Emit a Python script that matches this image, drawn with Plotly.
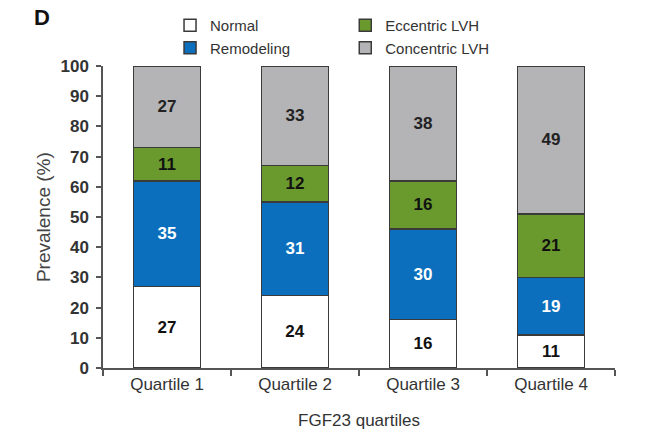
import plotly.graph_objects as go

categories = ["Quartile 1", "Quartile 2", "Quartile 3", "Quartile 4"]
normal = [27, 24, 16, 11]
remodeling = [35, 31, 30, 19]
eccentric = [11, 12, 16, 21]
concentric = [27, 33, 38, 49]

series = [
    ("Normal", normal, "#ffffff", "#111111", "legend"),
    ("Remodeling", remodeling, "#0b6fbd", "#ffffff", "legend"),
    ("Eccentric LVH", eccentric, "#6a9a2e", "#111111", "legend2"),
    ("Concentric LVH", concentric, "#b4b4b6", "#222222", "legend2"),
]

FONT = "Arial, Liberation Sans, Helvetica, sans-serif"

fig = go.Figure()
for name, vals, color, tcolor, lg in series:
    fig.add_trace(go.Bar(
        name=name, x=categories, y=vals,
        marker=dict(color=color, line=dict(color="#3a3a3a", width=1.5)),
        width=0.52,
        text=[str(v) for v in vals],
        textposition="inside", insidetextanchor="middle", textangle=0,
        constraintext="none",
        textfont=dict(family=FONT, size=17, color=tcolor, weight="bold"),
        legend=lg,
        hoverinfo="skip",
    ))

leg_common = dict(xref="container", yref="container", xanchor="left", yanchor="top",
                  bgcolor="rgba(0,0,0,0)", font=dict(size=15, color="#333333"),
                  tracegroupgap=0, itemclick=False, traceorder="normal")

fig.update_layout(
    width=649, height=448,
    margin=dict(l=103, r=34, t=66, b=80, autoexpand=False),
    barmode="stack",
    plot_bgcolor="white", paper_bgcolor="white",
    font=dict(family=FONT, color="#333333"),
    showlegend=True,
    legend=dict(x=0.262, y=0.98, **leg_common),
    legend2=dict(x=0.532, y=0.98, **leg_common),
    annotations=[
        dict(text="<b>D</b>", x=-0.139, y=1.159, xref="paper", yref="paper",
             xanchor="left", yanchor="middle", showarrow=False,
             font=dict(family=FONT, size=22, color="#111111")),
        dict(text="Prevalence (%)", x=-0.117, y=0.5, xref="paper", yref="paper",
             xanchor="center", yanchor="middle", textangle=-90, showarrow=False,
             font=dict(family=FONT, size=19, color="#444444")),
    ],
)

fig.update_xaxes(
    type="category", range=[-0.5, 3.5], automargin=True,
    showline=True, linecolor="#555555", linewidth=1.5,
    ticks="outside", tickson="boundaries", ticklen=6, tickcolor="#555555", tickwidth=1.5,
    tickfont=dict(size=17, color="#333333"),
    title=dict(text="FGF23 quartiles", font=dict(size=17, color="#333333"), standoff=21),
    showgrid=False,
)
fig.update_yaxes(
    range=[0, 100], dtick=10, tick0=0, automargin=False,
    showline=True, linecolor="#555555", linewidth=1.5,
    ticks="outside", ticklen=5, tickcolor="#555555", tickwidth=1.5,
    ticklabelstandoff=4,
    tickfont=dict(size=17, color="#333333", weight="bold"),
    showgrid=False, zeroline=False,
)

fig.write_html("out.html", config={"displayModeBar": False},
               post_script="document.body.style.margin='0';")
